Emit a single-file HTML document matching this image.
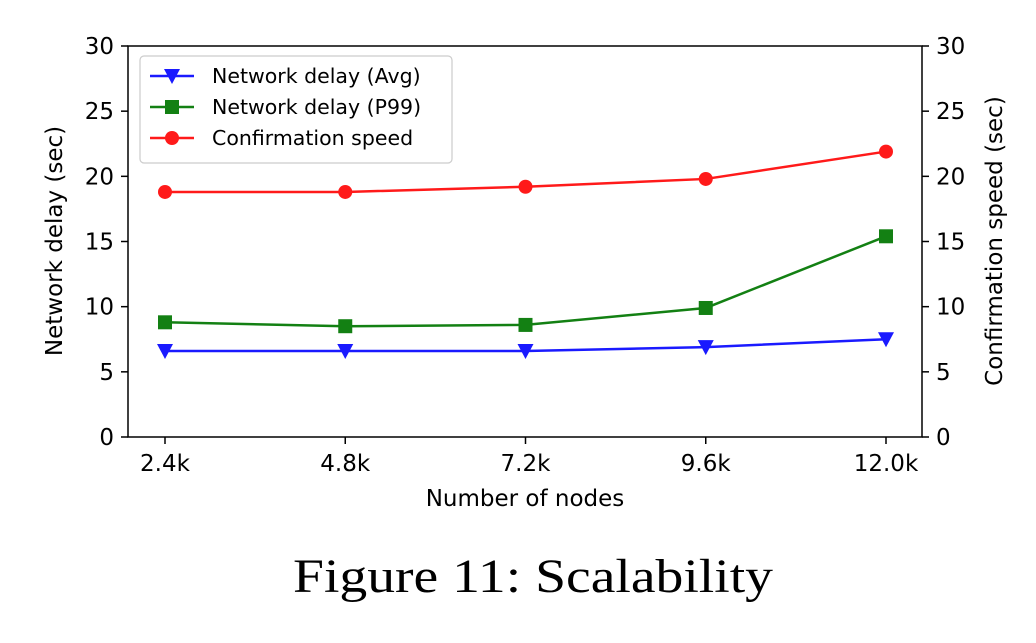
<!DOCTYPE html>
<html><head><meta charset="utf-8"><style>
html,body{margin:0;padding:0;background:#fff;}
svg text{font-family:"DejaVu Sans","Liberation Sans",sans-serif;}
</style></head><body>
<svg id="chart" width="1036" height="638" viewBox="0 0 1036 638" xmlns="http://www.w3.org/2000/svg">
<rect width="1036" height="638" fill="#fff"/>
<rect x="128" y="46" width="794" height="391" fill="none" stroke="#000" stroke-width="1.5"/>
<g id="ticks"></g>
<g id="series"></g>
<text x="62" y="241" font-size="23" text-anchor="middle" transform="rotate(-90 62 241)">Network delay (sec)</text>
<text x="1002" y="241" font-size="23" text-anchor="middle" transform="rotate(-90 1002 241)">Confirmation speed (sec)</text>
<text x="525" y="506" font-size="23" text-anchor="middle">Number of nodes</text>
<text x="293" y="592" font-size="48" textLength="480" lengthAdjust="spacingAndGlyphs" style="font-family:'Liberation Serif',serif">Figure 11: Scalability</text>
<g>
<rect x="140" y="56" width="312" height="107" rx="4" fill="#fff" stroke="#ccc" stroke-width="1.2"/>
<g id="legend"></g>
</g>
</svg>
<script>
const categories=["2.4k","4.8k","7.2k","9.6k","12.0k"];
const avgDelay=[6.6,6.6,6.6,6.9,7.5];
const p99Delay=[8.8,8.5,8.6,9.9,15.4];
const confSpeed=[18.8,18.8,19.2,19.8,21.9];
const yTicks=[0,5,10,15,20,25,30];
const NS="http://www.w3.org/2000/svg";
const x0=165,x1=886,yTop=46,yBot=437,yMax=30;
function xs(i){return x0+(x1-x0)*i/(categories.length-1);}
function ys(v){return yBot-(yBot-yTop)*v/yMax;}
function mk(tag,attrs,parent){const e=document.createElementNS(NS,tag);for(const k in attrs)e.setAttribute(k,attrs[k]);parent.appendChild(e);return e;}
const tg=document.getElementById('ticks');
yTicks.forEach(v=>{
 const y=ys(v);
 mk('line',{x1:121,x2:128,y1:y,y2:y,stroke:'#000','stroke-width':1.5},tg);
 mk('line',{x1:922,x2:929,y1:y,y2:y,stroke:'#000','stroke-width':1.5},tg);
 const t=mk('text',{x:114,y:y+8,'font-size':23,'text-anchor':'end'},tg);t.textContent=v;
 
 
 const t2=mk('text',{x:936,y:y+8,'font-size':23,'text-anchor':'start'},tg);t2.textContent=v;
 
 
});
categories.forEach((c,i)=>{
 const x=xs(i);
 mk('line',{x1:x,x2:x,y1:437,y2:444,stroke:'#000','stroke-width':1.5},tg);
 const t=mk('text',{x:x,y:471,'font-size':23,'text-anchor':'middle'},tg);t.textContent=c;
 
 
});
const sg=document.getElementById('series');
function marker(type,x,y,color,g){
 if(type==='tri')return mk('path',{d:`M${x-8},${y-7}L${x+8},${y-7}L${x},${y+8}Z`,fill:color},g);
 if(type==='sq')return mk('rect',{x:x-7,y:y-7,width:14,height:14,fill:color},g);
 return mk('circle',{cx:x,cy:y,r:7,fill:color},g);
}
function series(vals,color,type,name){
 const g=mk('g',{},sg);
 
 
 mk('polyline',{points:vals.map((v,i)=>xs(i)+','+ys(v)).join(' '),fill:'none',stroke:color,'stroke-width':2.5},g);
 vals.forEach((v,i)=>{const m=marker(type,xs(i),ys(v),color,g);
  
  });
}
series(avgDelay,'#1a1aff','tri','series-network-delay-avg');
series(p99Delay,'#138013','sq','series-network-delay-p99');
series(confSpeed,'#ff1a1a','circ','series-confirmation-speed');
const lg=document.getElementById('legend');
[['Network delay (Avg)','#1a1aff','tri'],['Network delay (P99)','#138013','sq'],['Confirmation speed','#ff1a1a','circ']].forEach((e,i)=>{
 const y=76+i*31;
 const g=mk('g',{},lg);
 
 
 mk('line',{x1:150,x2:194,y1:y,y2:y,stroke:e[1],'stroke-width':2.5},g);
 marker(e[2],172,y,e[1],g);
 const t=mk('text',{x:212,y:y+7,'font-size':20.5},g);t.textContent=e[0];
});
</script>
</body></html>
